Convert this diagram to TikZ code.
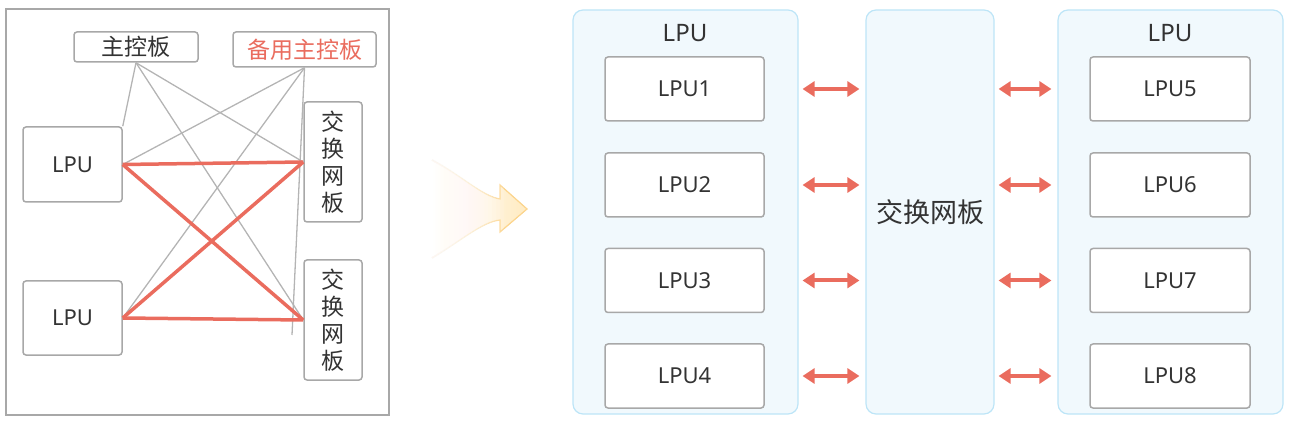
\documentclass[tikz,border=0pt]{standalone}
\usepackage{fontspec}
\setmainfont{Noto Sans}
\newfontfamily\cjk{Noto Sans CJK SC}
\usetikzlibrary{arrows.meta,calc}

\definecolor{linkred}{HTML}{EA6C5E}
\definecolor{wiregray}{HTML}{B4B4B4}
\definecolor{boxgray}{HTML}{A8A8A8}
\definecolor{textgray}{HTML}{333333}
\definecolor{cageblue}{HTML}{BDE5F7}
\definecolor{cagefill}{HTML}{F1F9FD}
\definecolor{flowgold}{HTML}{FDD58C}
\definecolor{flowfill}{HTML}{FFEBC2}

\begin{document}
\begin{tikzpicture}
     [
     x=1pt, y=-1pt,
     every node/.style={font=\fontsize{22}{26}\selectfont, text=textgray, inner sep=0pt},
     board/.style={draw=boxgray, line width=1.5pt, rounded corners=3pt, fill=white},
     cage/.style={draw=cageblue, fill=cagefill, line width=1.2pt, rounded corners=10pt},
     wire/.style={draw=wiregray, line width=1.3pt},
     link/.style={draw=linkred, line width=3.5pt},
     bus/.style={linkred, line width=4pt, {Triangle[length=12pt,width=15pt]}-{Triangle[length=12pt,width=15pt]}, shorten <=4pt, shorten >=6pt}
     ]
     \useasboundingbox (0,0) rectangle (1295,427);

     % old design: every LPU wired to every board
     \draw[boxgray, line width=1.5pt] (6,9) rectangle (389,415);
     \node[board, minimum width=124pt, minimum height=30pt] (mpu) at (136,47) {\cjk\fontsize{23}{25}\selectfont 主控板};
     \node[board, minimum width=143pt, minimum height=35pt] (mpubak) at (304.5,49.5) {\cjk\fontsize{23}{25}\selectfont\color{linkred}备用主控板};
     \node[board, minimum width=99pt, minimum height=75pt] (lpuA) at (72.5,164.5) {LPU};
     \node[board, minimum width=99pt, minimum height=74pt] (lpuB) at (72.5,318) {LPU};
     \node[board, minimum width=58pt, minimum height=120pt, align=center, font=\cjk\fontsize{23}{27}\selectfont] (sfuA) at (333,162) {交\\换\\网\\板};
     \node[board, minimum width=58pt, minimum height=120pt, align=center, font=\cjk\fontsize{23}{27}\selectfont] (sfuB) at (333,320) {交\\换\\网\\板};
     \coordinate (loose) at (292,335);

     \draw[wire] (mpu.south) -- (lpuA.north east);
     \draw[wire] (mpu.south) -- (sfuA.west);
     \draw[wire] (mpu.south) -- (sfuB.west);
     \draw[wire] (mpubak.south) -- (lpuA.east);
     \draw[wire] (mpubak.south) -- (lpuB.east);
     \draw[wire] (mpubak.south) -- (loose);
     \draw[link] (lpuA.east) -- (sfuA.west);
     \draw[link] (lpuA.east) -- (sfuB.west);
     \draw[link] (lpuB.east) -- (sfuA.west);
     \draw[link] (lpuB.east) -- (sfuB.west);

     % transition arrow, washed out towards the left
     \filldraw[draw=flowgold, line width=1.2pt, left color=white, right color=flowfill, line join=miter]
     (432,160) .. controls (462,176) and (482,196) .. (500,199)
     -- (500,185) -- (527,209) -- (500,232) -- (500,220)
     .. controls (482,222) and (462,240) .. (432,258);
     \foreach \x in {436,440,...,504}
       \fill[white, opacity=0.12] (428,150) rectangle (\x,268);

     % new design: LPUs go through the switch fabric
     \node[cage, minimum width=225pt, minimum height=404pt] (cageL) at (685.5,212) {};
     \node[cage, minimum width=128pt, minimum height=404pt] (fabric) at (930,212) {\cjk\fontsize{27}{29}\selectfont 交换网板};
     \node[cage, minimum width=225pt, minimum height=404pt] (cageR) at (1170.5,212) {};
     \node[font=\fontsize{24}{26}\selectfont] (titleL) at (685,33) {LPU};
     \node[font=\fontsize{24}{26}\selectfont] (titleR) at (1170,33) {LPU};

     \foreach \i/\y in {1/89, 2/185, 3/280.5, 4/376} {
       \node[board, minimum width=159pt, minimum height=64pt] (lpu\i) at (684.5,\y) {LPU\i};
       \draw[bus] (cageL.east |- lpu\i) -- (fabric.west |- lpu\i);
     }
     \foreach \i/\y in {5/89, 6/185, 7/280.5, 8/376} {
       \node[board, minimum width=160pt, minimum height=64pt] (lpu\i) at (1170,\y) {LPU\i};
       \draw[bus] (fabric.east |- lpu\i) -- (cageR.west |- lpu\i);
     }
\end{tikzpicture}
\end{document}
